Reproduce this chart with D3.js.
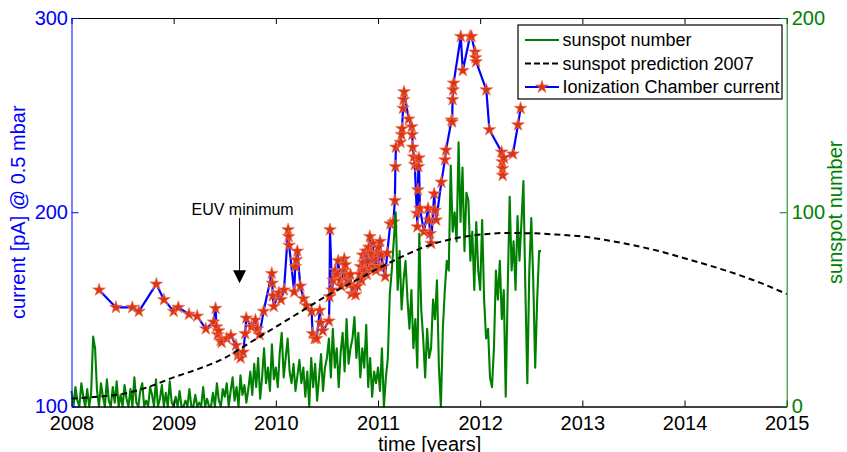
<!DOCTYPE html>
<html>
<head>
<meta charset="utf-8">
<script src="https://cdn.jsdelivr.net/npm/d3@7"></script>
<style>
  body { margin: 0; background: #fff; }
  text { font-family: "Liberation Sans", Arial, sans-serif; }
</style>
</head>
<body>
<div id="chart"></div>
<script>
// ionization chamber current [pA] @ 0.5 mbar
var icYears = [2008.27, 2008.435, 2008.595, 2008.66, 2008.83, 2008.905, 2009.0, 2009.045, 2009.15, 2009.23,
    2009.315, 2009.39, 2009.41, 2009.42, 2009.43, 2009.44, 2009.46, 2009.47, 2009.52, 2009.56,
    2009.61, 2009.63, 2009.655, 2009.68, 2009.70, 2009.71, 2009.76, 2009.80, 2009.82, 2009.84,
    2009.88, 2009.96, 2009.965, 2009.97, 2009.98, 2010.03, 2010.05, 2010.08, 2010.12, 2010.125,
    2010.13, 2010.18, 2010.19, 2010.20, 2010.21, 2010.24, 2010.27, 2010.30, 2010.35, 2010.36,
    2010.38, 2010.40, 2010.43, 2010.44, 2010.46, 2010.52, 2010.525, 2010.53, 2010.55, 2010.56,
    2010.58, 2010.60, 2010.61, 2010.63, 2010.64, 2010.66, 2010.67, 2010.68, 2010.69, 2010.70,
    2010.72, 2010.73, 2010.74, 2010.76, 2010.78, 2010.80, 2010.82, 2010.83, 2010.84, 2010.85,
    2010.86, 2010.87, 2010.88, 2010.89, 2010.90, 2010.91, 2010.92, 2010.93, 2010.94, 2010.95,
    2010.96, 2010.97, 2010.98, 2010.99, 2011.0, 2011.01, 2011.02, 2011.03, 2011.05, 2011.07,
    2011.09, 2011.12, 2011.15, 2011.165, 2011.17, 2011.175, 2011.22, 2011.23, 2011.235, 2011.245,
    2011.25, 2011.255, 2011.30, 2011.33, 2011.335, 2011.34, 2011.35, 2011.36, 2011.38, 2011.385,
    2011.39, 2011.395, 2011.40, 2011.41, 2011.45, 2011.49, 2011.50, 2011.51, 2011.52, 2011.55,
    2011.56, 2011.57, 2011.62, 2011.655, 2011.665, 2011.72, 2011.725, 2011.73, 2011.735, 2011.74,
    2011.81, 2011.83, 2011.90, 2011.915, 2011.95, 2011.955, 2011.96, 2012.06, 2012.09, 2012.21,
    2012.215, 2012.218, 2012.22, 2012.23, 2012.32, 2012.37, 2012.395];
var icCurrent = [160, 151, 151, 149, 163, 155, 149, 151, 147.5, 146.5,
    140, 143.5, 150.5, 141, 137, 139, 134, 133, 135, 136.5,
    131.5, 126.5, 125, 128, 137.5, 145.5, 141, 144.5, 140, 137,
    149, 168.5, 163.5, 157, 151.5, 158.5, 155, 160, 191, 187.5,
    183, 159, 172, 175.5, 180, 162, 155.5, 152, 149, 137.5,
    135, 135, 149.5, 143, 139, 144, 156.5, 191, 160, 165,
    170, 168, 175, 165, 162, 170, 176, 173, 168, 165,
    163, 168, 158, 161, 157.5, 162, 168, 172, 165, 178,
    174, 170, 180, 168, 175, 182, 187.5, 171, 179, 184,
    172, 176, 170, 179, 182, 172, 185, 178, 172, 167,
    179, 194, 195, 206, 223.5, 233.5, 236, 240, 243, 253.5,
    258, 262, 248, 244, 240, 233.5, 228.5, 224.5, 199.5, 192.5,
    211.5, 223.5, 228, 202, 190, 202, 196, 189, 184, 209.5,
    201, 196, 215.5, 227, 232, 247.5, 246.5, 258, 263, 266.5,
    290.5, 273, 290.5, 290.5, 282.5, 279.5, 277.5, 263, 242.5, 231,
    226, 222.5, 219, 228, 230, 245, 253.5];

// weekly sunspot number, one array per year (52 weeks)
var sunspot2008 = [8, 0, 10, 3, 0, 12, 5, 0, 9, 0, 7, 36, 30,
    8, 0, 12, 5, 0, 14, 3, 0, 10, 2, 13, 0, 6,
    0, 11, 4, 0, 9, 0, 15, 2, 0, 8, 12, 0, 3,
    0, 10, 6, 0, 14, 0, 4, 11, 0, 7, 0, 13, 2];
var sunspot2009 = [0, 5, 0, 8, 0, 0, 3, 0, 9, 0, 0, 6, 0,
    2, 0, 10, 0, 4, 0, 0, 7, 0, 12, 3, 0, 9,
    5, 12, 0, 8, 15, 3, 10, 0, 16, 6, 11, 2, 9,
    18, 6, 22, 10, 25, 4, 15, 30, 12, 20, 8, 32, 14];
var sunspot2010 = [20, 10, 28, 38, 15, 25, 35, 18, 12, 22, 8, 16, 24,
    12, 20, 5, 18, 0, 25, 10, 22, 3, 15, 27, 8, 20,
    25, 35, 15, 40, 20, 30, 10, 28, 38, 18, 45, 22, 30,
    35, 46, 25, 38, 15, 30, 20, 42, 10, 25, 5, 18, 12];
var sunspot2011 = [20, 8, 30, 0, 15, 25, 58, 70, 85, 100, 60, 80, 50,
    65, 75, 55, 40, 60, 30, 45, 20, 89, 50, 35, 15, 40,
    25, 30, 55, 45, 65, 20, 0, 40, 60, 75, 70, 124, 90,
    100, 85, 136, 95, 123, 80, 110, 106, 75, 90, 60, 95, 70];
var sunspot2012 = [60, 96, 55, 35, 40, 15, 10, 30, 70, 55, 75, 45, 60,
    5, 60, 108, 70, 85, 60, 98, 75, 95, 116, 60, 12, 70, 97, 65, 20, 55, 80, 80];

// sunspot prediction 2007
var predYears = [2008.0, 2008.25, 2008.5, 2008.75, 2009.0, 2009.25, 2009.5, 2009.75, 2010.0, 2010.25,
    2010.5, 2010.75, 2011.0, 2011.25, 2011.5, 2011.75, 2012.0, 2012.25, 2012.5, 2012.75,
    2013.0, 2013.25, 2013.5, 2013.75, 2014.0, 2014.25, 2014.5, 2014.75, 2015.0];
var predSunspot = [4, 5, 6.5, 10, 15, 19.5, 25, 33, 41, 49,
    57, 64, 71, 77.5, 83, 86.5, 88.5, 89.3, 89.2, 88.5,
    87.5, 85.5, 83, 80, 76.3, 72.5, 68.3, 63.5, 57.9];

var xTicks = [2008, 2009, 2010, 2011, 2012, 2013, 2014, 2015];
var leftTicks = [100, 200, 300];
var rightTicks = [0, 100, 200];

// annotation: arrow from label down to the EUV minimum
var euvYear = 2009.645;
var euvFrom = 197, euvTo = 163.5;

var legendLabels = ["sunspot number", "sunspot prediction 2007", "Ionization Chamber current"];

var BLUE = "#0000ff", GREEN = "#008000", STAR = "#dd3311";

var W = 847, H = 452;
var margin = { top: 18, right: 60.3, bottom: 45.5, left: 71.5 },
    width = W - margin.left - margin.right,
    height = H - margin.top - margin.bottom;

var svg = d3.select("#chart").append("svg")
    .attr("width", W)
    .attr("height", H);
var g = svg.append("g")
    .attr("transform", "translate(" + margin.left + "," + margin.top + ")");

var x = d3.scaleLinear().domain([2008, 2015]).range([0, width]);
var yl = d3.scaleLinear().domain([100, 300]).range([height, 0]);
var yr = d3.scaleLinear().domain([0, 200]).range([height, 0]);

// build series
var sunspot = [];
[[2008, sunspot2008], [2009, sunspot2009], [2010, sunspot2010], [2011, sunspot2011], [2012, sunspot2012]]
    .forEach(function (yd) {
        yd[1].forEach(function (v, i) { sunspot.push({ t: yd[0] + i / 52, v: v }); });
    });
var ic = icYears.map(function (t, i) { return { t: t, v: icCurrent[i] }; });
var pred = predYears.map(function (t, i) { return { t: t, v: predSunspot[i] }; });

// current line + stars
g.append("path")
    .datum(ic)
    .attr("fill", "none")
    .attr("stroke", BLUE)
    .attr("stroke-width", 2.2)
    .attr("stroke-linejoin", "round")
    .attr("d", d3.line().x(function (d) { return x(d.t); }).y(function (d) { return yl(d.v); }));

var star = d3.symbol().type(d3.symbolStar).size(50);
g.selectAll(".star").data(ic).enter().append("path")
    .attr("class", "star")
    .attr("transform", function (d) { return "translate(" + x(d.t) + "," + yl(d.v) + ")"; })
    .attr("d", star)
    .attr("fill", STAR)
    .attr("stroke", "#ea7358")
    .attr("stroke-width", 0.7);

// sunspot number
g.append("path")
    .datum(sunspot)
    .attr("fill", "none")
    .attr("stroke", GREEN)
    .attr("stroke-width", 2.1)
    .attr("stroke-linejoin", "round")
    .attr("d", d3.line().x(function (d) { return x(d.t); }).y(function (d) { return yr(d.v); }));

// prediction
g.append("path")
    .datum(pred)
    .attr("fill", "none")
    .attr("stroke", "#000")
    .attr("stroke-width", 2)
    .attr("stroke-dasharray", "6,4")
    .attr("d", d3.line().curve(d3.curveMonotoneX)
        .x(function (d) { return x(d.t); }).y(function (d) { return yr(d.v); }));

// axes
var bottomAxis = d3.axisBottom(x).tickValues(xTicks).tickFormat(d3.format("d"))
    .tickSizeInner(-6).tickSizeOuter(0).tickPadding(8.8);
var gb = g.append("g").attr("transform", "translate(0," + height + ")").call(bottomAxis);
gb.select(".domain").attr("stroke", "#000").attr("stroke-width", 1.6);
gb.selectAll(".tick line").attr("stroke", "#000");
gb.selectAll(".tick text").attr("fill", "#000").style("font-size", "20px");

var topAxis = d3.axisTop(x).tickValues(xTicks).tickFormat("").tickSizeInner(-6).tickSizeOuter(0);
var gt = g.append("g").call(topAxis);
gt.select(".domain").attr("stroke", "#000").attr("stroke-width", 1.2);

var leftAxis = d3.axisLeft(yl).tickValues(leftTicks).tickSizeInner(-7).tickSizeOuter(0).tickPadding(3.5);
var gl = g.append("g").call(leftAxis);
gl.select(".domain").attr("stroke", BLUE);
gl.selectAll(".tick line").attr("stroke", BLUE);
gl.selectAll(".tick text").attr("fill", BLUE).style("font-size", "20px");

var rightAxis = d3.axisRight(yr).tickValues(rightTicks).tickSizeInner(-7).tickSizeOuter(0).tickPadding(5);
var gr = g.append("g").attr("transform", "translate(" + width + ",0)").call(rightAxis);
gr.select(".domain").attr("stroke", GREEN);
gr.selectAll(".tick line").attr("stroke", GREEN);
gr.selectAll(".tick text").attr("fill", GREEN).style("font-size", "20px");

// axis labels
svg.append("text")
    .attr("transform", "translate(25," + (margin.top + height / 2) + ") rotate(-90)")
    .attr("text-anchor", "middle")
    .attr("fill", BLUE)
    .style("font-size", "20px")
    .text("current [pA] @ 0.5 mbar");

svg.append("text")
    .attr("transform", "translate(842," + (margin.top + height / 2) + ") rotate(-90)")
    .attr("text-anchor", "middle")
    .attr("fill", GREEN)
    .style("font-size", "20px")
    .text("sunspot number");

svg.append("text")
    .attr("x", margin.left + width / 2 + 0.5)
    .attr("y", 451)
    .attr("text-anchor", "middle")
    .attr("fill", "#000")
    .style("font-size", "20px")
    .text("time [years]");

// EUV minimum annotation
g.append("text")
    .attr("x", x(euvYear) + 3)
    .attr("y", yl(euvFrom) - 3)
    .attr("text-anchor", "middle")
    .attr("fill", "#000")
    .style("font-size", "16px")
    .text("EUV minimum");
g.append("line")
    .attr("x1", x(euvYear)).attr("x2", x(euvYear))
    .attr("y1", yl(euvFrom)).attr("y2", yl(euvTo) - 10)
    .attr("stroke", "#000").attr("stroke-width", 1);
g.append("path")
    .attr("d", "M" + (x(euvYear) - 6.5) + "," + (yl(euvTo) - 13) +
        "L" + (x(euvYear) + 6.5) + "," + (yl(euvTo) - 13) +
        "L" + x(euvYear) + "," + yl(euvTo) + "Z")
    .attr("fill", "#000");

// legend
var lg = svg.append("g").attr("transform", "translate(518,25)");
lg.append("rect")
    .attr("width", 264).attr("height", 74)
    .attr("fill", "#fff").attr("stroke", "#000").attr("stroke-width", 1.2);
var rows = [15, 38.5, 62];
legendLabels.forEach(function (lab, i) {
    var row = lg.append("g").attr("transform", "translate(0," + rows[i] + ")");
    var ln = row.append("line").attr("x1", 7).attr("x2", 41).attr("y1", 0).attr("y2", 0);
    if (i === 0) ln.attr("stroke", GREEN).attr("stroke-width", 2);
    if (i === 1) ln.attr("stroke", "#000").attr("stroke-width", 2).attr("stroke-dasharray", "6,3");
    if (i === 2) {
        ln.attr("stroke", BLUE).attr("stroke-width", 2.2);
        row.append("path").attr("transform", "translate(24,0)").attr("d", star)
            .attr("fill", STAR).attr("stroke", "#ea7358").attr("stroke-width", 0.7);
    }
    row.append("text")
        .attr("x", 44.5).attr("y", 0).attr("dy", "0.35em")
        .attr("fill", "#000")
        .style("font-size", "18px")
        .text(lab);
});
</script>
</body>
</html>
